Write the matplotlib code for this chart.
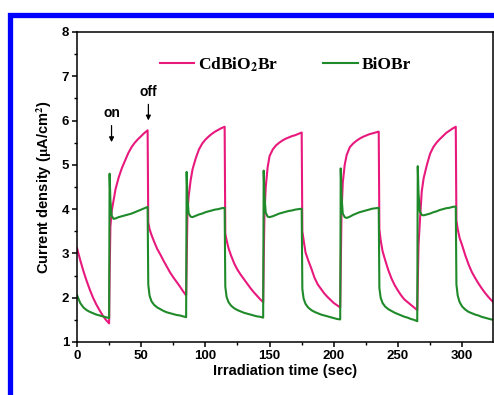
import matplotlib
matplotlib.use('Agg')
import matplotlib.pyplot as plt
from matplotlib.patches import Rectangle

plt.rcParams['mathtext.fontset'] = 'stix'

# tiempo (s): tramo inicial + 5 ciclos de luz (on 30 s / off 30 s)
t = [0, 2.5, 5, 7.5, 10, 12.5, 15, 17.5, 20, 22.5, 25,
     25.4, 26, 27, 28.5, 30, 32.5, 35, 37.5, 40, 42.5, 45, 47.5, 50, 52.5, 55,
     55.5, 56.5, 58, 60, 62.5, 65, 67.5, 70, 72.5, 75, 77.5, 80, 82.5, 85,
     85.4, 86, 87, 88.5, 90, 92.5, 95, 97.5, 100, 102.5, 105, 107.5, 110, 112.5, 115,
     115.5, 116.5, 118, 120, 122.5, 125, 127.5, 130, 132.5, 135, 137.5, 140, 142.5, 145,
     145.4, 146, 147, 148.5, 150, 152.5, 155, 157.5, 160, 162.5, 165, 167.5, 170, 172.5, 175,
     175.5, 176.5, 178, 180, 182.5, 185, 187.5, 190, 192.5, 195, 197.5, 200, 202.5, 205,
     205.4, 206, 207, 208.5, 210, 212.5, 215, 217.5, 220, 222.5, 225, 227.5, 230, 232.5, 235,
     235.5, 236.5, 238, 240, 242.5, 245, 247.5, 250, 252.5, 255, 257.5, 260, 262.5, 265,
     265.4, 266, 267, 268.5, 270, 272.5, 275, 277.5, 280, 282.5, 285, 287.5, 290, 292.5, 295,
     295.5, 296.5, 298, 300, 302.5, 305, 307.5, 310, 312.5, 315, 317.5, 320, 322.5, 325]

# CdBiO2Br
cd = [3.12, 2.85, 2.6, 2.38, 2.18, 2.0, 1.85, 1.72, 1.6, 1.5, 1.42,
      2.5, 3.6, 3.95, 4.2, 4.45, 4.72, 4.93, 5.1, 5.27, 5.4, 5.5, 5.58, 5.65, 5.72, 5.78,
      3.7, 3.55, 3.42, 3.27, 3.1, 2.97, 2.83, 2.7, 2.57, 2.46, 2.36, 2.26, 2.15, 2.05,
      2.8, 3.9, 4.3, 4.65, 4.9, 5.15, 5.35, 5.48, 5.57, 5.64, 5.7, 5.75, 5.79, 5.83, 5.86,
      3.45, 3.3, 3.12, 2.95, 2.77, 2.63, 2.52, 2.42, 2.32, 2.22, 2.13, 2.05, 1.97, 1.9,
      2.8, 3.9, 4.5, 4.95, 5.2, 5.35, 5.44, 5.5, 5.55, 5.59, 5.62, 5.65, 5.67, 5.7, 5.73,
      3.5, 3.3, 3.02, 2.85, 2.66, 2.45, 2.3, 2.2, 2.1, 2.02, 1.95, 1.88, 1.83, 1.78,
      2.7, 3.9, 4.6, 5.0, 5.22, 5.4, 5.48, 5.54, 5.59, 5.63, 5.66, 5.69, 5.71, 5.73, 5.75,
      3.55, 3.3, 3.05, 2.85, 2.62, 2.43, 2.28, 2.16, 2.05, 1.96, 1.9, 1.84, 1.78, 1.72,
      2.3, 3.2, 3.7, 4.4, 4.7, 5.0, 5.25, 5.4, 5.5, 5.58, 5.65, 5.72, 5.77, 5.82, 5.86,
      3.75, 3.55, 3.35, 3.18, 2.95, 2.75, 2.58, 2.45, 2.33, 2.22, 2.12, 2.03, 1.95, 1.88]

# BiOBr
bi = [2.06, 1.88, 1.78, 1.72, 1.68, 1.65, 1.62, 1.6, 1.58, 1.56, 1.54,
      4.8, 4.2, 3.85, 3.78, 3.79, 3.82, 3.84, 3.86, 3.88, 3.9, 3.93, 3.96, 3.99, 4.02, 4.05,
      2.3, 2.05, 1.92, 1.84, 1.78, 1.74, 1.7, 1.67, 1.65, 1.63, 1.61, 1.6, 1.58, 1.56,
      4.84, 4.25, 3.9, 3.83, 3.82, 3.85, 3.88, 3.9, 3.93, 3.95, 3.97, 3.99, 4.0, 4.02, 4.03,
      2.25, 2.02, 1.9, 1.82, 1.76, 1.72, 1.69, 1.66, 1.64, 1.62, 1.6, 1.58, 1.57, 1.55,
      4.87, 4.3, 3.92, 3.83, 3.82, 3.84, 3.87, 3.9, 3.92, 3.94, 3.96, 3.97, 3.99, 4.0, 4.01,
      2.2, 1.98, 1.86, 1.78, 1.72, 1.68, 1.65, 1.62, 1.6, 1.58, 1.56, 1.54, 1.52, 1.51,
      4.92, 4.3, 3.9, 3.82, 3.8, 3.83, 3.87, 3.9, 3.93, 3.95, 3.97, 3.99, 4.01, 4.02, 4.03,
      2.22, 2.0, 1.88, 1.8, 1.74, 1.7, 1.66, 1.63, 1.6, 1.57, 1.55, 1.52, 1.5, 1.47,
      4.97, 4.35, 3.95, 3.87, 3.86, 3.88, 3.9, 3.93, 3.95, 3.98, 4.0, 4.02, 4.03, 4.05, 4.06,
      2.3, 2.05, 1.9, 1.8, 1.73, 1.68, 1.65, 1.62, 1.6, 1.57, 1.55, 1.53, 1.51, 1.5]

fig = plt.figure(figsize=(4.94, 3.95), dpi=100)
ax = fig.add_axes([77/494, 53/395, 416/494, 310/395])

ax.plot(t, cd, color='#e8197d', lw=1.5, label='CdBiO$_\\mathbf{2}$Br')
ax.plot(t, bi, color='#1f8a2a', lw=1.5, label='BiOBr')

ax.set_xlim(0, 324)
ax.set_ylim(1, 8)
ax.set_xticks([0, 50, 100, 150, 200, 250, 300])
ax.set_xticks(range(25, 325, 50), minor=True)
ax.set_yticks([1, 2, 3, 4, 5, 6, 7, 8])
ax.set_yticks([1.5, 2.5, 3.5, 4.5, 5.5, 6.5, 7.5], minor=True)
ax.tick_params(which='major', direction='out', length=3.5, width=1.1, pad=2)
ax.tick_params(which='minor', direction='out', length=2.2, width=1.0)
for lab in ax.get_xticklabels() + ax.get_yticklabels():
    lab.set_fontfamily('Liberation Sans')
    lab.set_fontweight('bold')
    lab.set_fontsize(9.5)
for s in ax.spines.values():
    s.set_linewidth(1.1)

ax.set_xlabel('Irradiation time (sec)', family='Liberation Sans', weight='bold',
              fontsize=10.5, labelpad=2)
ax.set_ylabel('Current density ($\\mathbf{\\mu}$A/cm$^\\mathbf{2}$)', family='Liberation Sans',
              weight='bold', fontsize=10.5, labelpad=6)

ax.legend(loc='upper center', bbox_to_anchor=(0.5, 0.975), ncol=2, frameon=False,
          prop={'family': 'Liberation Serif', 'weight': 'bold', 'size': 12.5},
          handlelength=2.0, handletextpad=0.2, columnspacing=2.6)

arr = dict(arrowstyle='-|>', color='black', lw=0.9, mutation_scale=7)
ax.annotate('on', xy=(26.9, 5.45), xytext=(26.9, 6.17), ha='center', va='center',
            family='Liberation Sans', weight='bold', fontsize=10, arrowprops=arr)
ax.annotate('off', xy=(55.6, 5.94), xytext=(55.6, 6.65), ha='center', va='center',
            family='Liberation Sans', weight='bold', fontsize=10, arrowprops=arr)

# marco azul de la figura
fig.patches.append(Rectangle((10/494, -0.2), 1.2, 1.2 - 14.5/395,
                             transform=fig.transFigure, fill=False,
                             edgecolor='#0000ff', lw=3.8))

fig.savefig('out.png', dpi=100)
